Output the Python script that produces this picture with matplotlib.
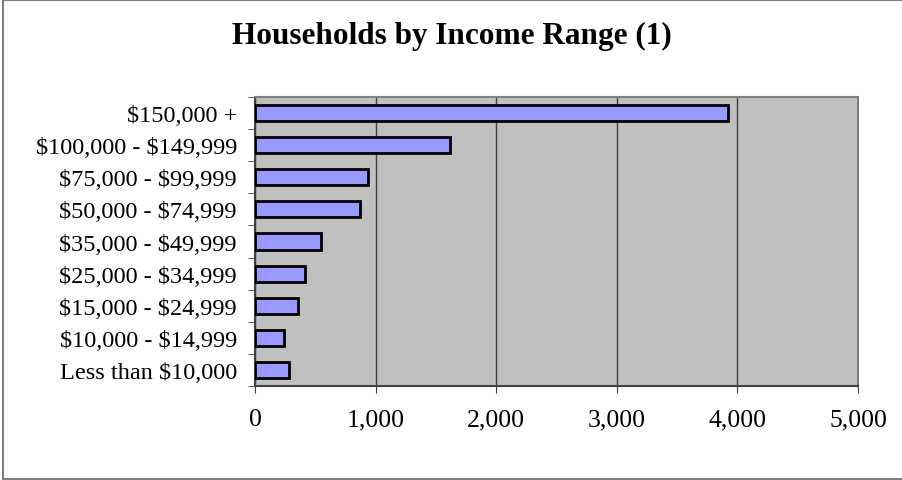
import matplotlib.pyplot as plt
from matplotlib.lines import Line2D
import numpy as np

categories = ["Less than $10,000", "$10,000 - $14,999", "$15,000 - $24,999",
              "$25,000 - $34,999", "$35,000 - $49,999", "$50,000 - $74,999",
              "$75,000 - $99,999", "$100,000 - $149,999", "$150,000 +"]
households = [285, 237, 354, 413, 548, 872, 935, 1616, 3925]
x_ticks = [0, 1000, 2000, 3000, 4000, 5000]

plt.rcParams["font.family"] = ["Liberation Serif", "DejaVu Serif"]
plt.rcParams["text.parse_math"] = False

fig = plt.figure(figsize=(9.03, 4.81), dpi=100)
# outer chart frame (left, top, bottom only; the right edge is cut off)
for xs, ys in [([0.003, 0.003], [0.002, 0.997]),
               ([0.003, 1.0], [0.997, 0.997]),
               ([0.003, 1.0], [0.002, 0.002])]:
    fig.add_artist(Line2D(xs, ys, transform=fig.transFigure, color="#808080", linewidth=1.5))

ax = fig.add_axes([0.2824, 0.1954, 0.6678, 0.6008])
ax.set_facecolor("#C0C0C0")

y = np.arange(len(categories))
ax.barh(y, households, height=0.5, color="#9999FF", edgecolor="black",
        linewidth=2, zorder=3)

ax.set_xlim(0, 5000)
ax.set_ylim(-0.5, len(categories) - 0.5)
ax.set_xticks(x_ticks)
ax.set_xticklabels([f"{v:,}" for v in x_ticks])
ax.set_yticks(y)
ax.set_yticklabels(categories)
ax.set_yticks(np.arange(-0.5, len(categories)), minor=True)

ax.grid(axis="x", color="#404040", linewidth=1, zorder=1)
ax.tick_params(axis="y", which="major", length=0, pad=13, labelsize=17.5)
ax.tick_params(axis="y", which="minor", length=5, direction="out", color="#404040")
ax.tick_params(axis="x", length=5, direction="out", pad=11, labelsize=18.5, color="#404040")

for s in ax.spines.values():
    s.set_color("#808080")
    s.set_linewidth(1.5)
ax.spines["left"].set_color("#404040")
ax.spines["bottom"].set_color("#404040")

fig.text(0.5, 0.925, "Households by Income Range (1)", ha="center", va="center",
         fontsize=22.5, fontweight="bold")

fig.savefig("out.png", dpi=100)
